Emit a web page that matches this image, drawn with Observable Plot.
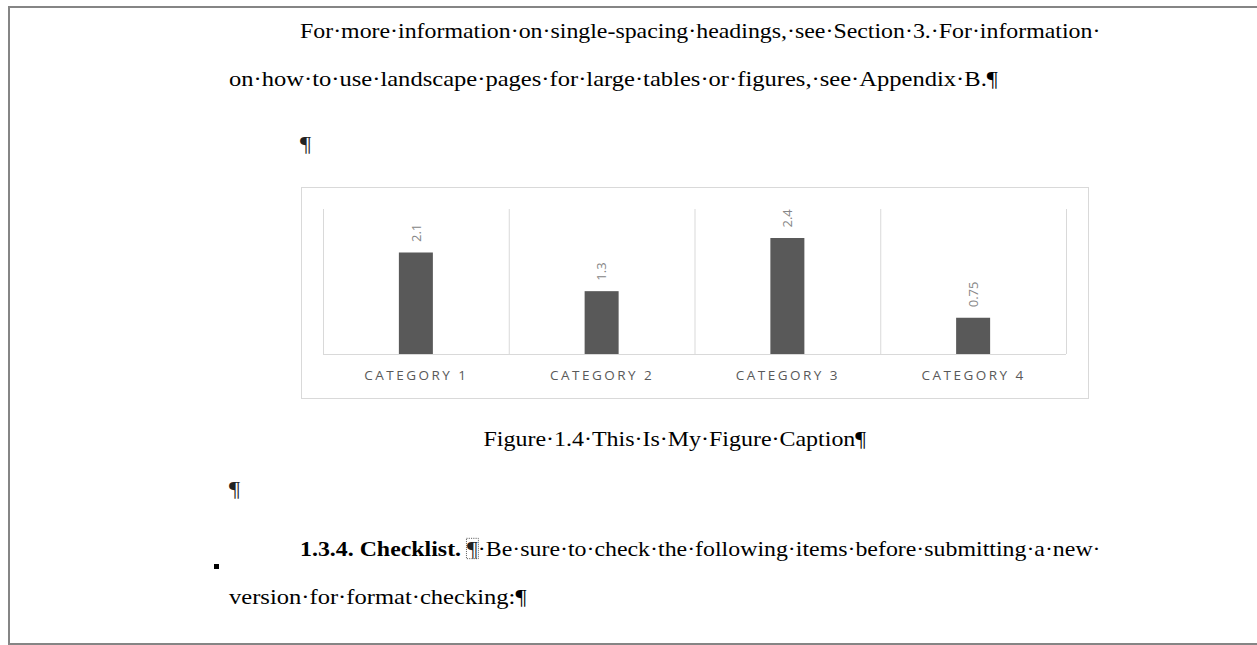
<!DOCTYPE html>
<html>
<head>
<meta charset="utf-8">
<script src="https://cdn.jsdelivr.net/npm/d3@7"></script>
<script src="https://cdn.jsdelivr.net/npm/@observablehq/plot@0.6"></script>
<style>
  html, body { margin: 0; padding: 0; background: #fff; }
  body { width: 1257px; height: 645px; overflow: hidden; position: relative; }
  .page { position: absolute; left: 8px; top: 6px; width: 1260px; height: 635px;
          border-left: 2px solid #858585; border-top: 2px solid #858585; border-bottom: 2px solid #858585; }
  #doc { position: absolute; left: 0; top: 0; }
  #doc text { font-family: "Liberation Serif", "Times New Roman", serif; font-size: 21px; fill: #000; }
  #chartbox { position: absolute; left: 301px; top: 187px; width: 786px; height: 210px; border: 1px solid #d9d9d9; }
  #chartbox svg { display: block; }
  #chartbox g[aria-label^="x-axis"] text { letter-spacing: 2.5px; fill: #595959; }
</style>
</head>
<body>
<div class="page"></div>
<svg id="doc" width="1257" height="645"></svg>
<div id="chartbox"></div>
<script>
// ---- chart data ----
const categories = ["Category 1", "Category 2", "Category 3", "Category 4"];
const values = [2.1, 1.3, 2.4, 0.75];
const valueLabels = ["2.1", "1.3", "2.4", "0.75"];
const yMax = 3;

// ---- document text ----
const para1 = ["For·more·information·on·single-spacing·headings,·see·Section·3.·For·information·",
               "on·how·to·use·landscape·pages·for·large·tables·or·figures,·see·Appendix·B.¶"];
const emptyMark = "¶";
const caption = "Figure·1.4·This·Is·My·Figure·Caption¶";
const headingBold = "1.3.4. Checklist.";
const headingRest = "·Be·sure·to·check·the·following·items·before·submitting·a·new·";
const para2End = "version·for·format·checking:¶";

const data = categories.map((c, i) => ({category: c, index: i, value: values[i], label: valueLabels[i]}));

const chart = Plot.plot({
  width: 786,
  height: 210,
  marginLeft: 21,
  marginRight: 22,
  marginTop: 21,
  marginBottom: 44,
  style: {background: "transparent", fontFamily: "'Open Sans', sans-serif", fontSize: "13.5px", color: "#595959", overflow: "visible"},
  x: {
    domain: [0, categories.length],
    ticks: categories.map((c, i) => i + 0.5),
    tickFormat: t => categories[Math.floor(t)].toUpperCase(),
    tickSize: 0,
    tickPadding: 16,
    label: null
  },
  y: {domain: [0, yMax], axis: null},
  marks: [
    Plot.ruleX(d3.range(categories.length + 1), {y1: 0, y2: yMax, stroke: "#d9d9d9", strokeWidth: 1}),
    Plot.ruleY([0], {stroke: "#d9d9d9", strokeWidth: 1.2}),
    Plot.rect(data, {x1: d => d.index + 0.5, x2: d => d.index + 0.5, y1: 0, y2: "value",
                     insetLeft: -17, insetRight: -17, fill: "#595959"}),
    Plot.text(data, {x: d => d.index + 0.5, y: "value", text: "label", rotate: -90,
                     textAnchor: "start", lineAnchor: "middle", dy: -11, fill: "#868686", fontSize: 13})
  ]
});
document.getElementById("chartbox").appendChild(chart);

// ---- document text layout ----
const svg = d3.select("#doc");
const SX = 1.17;
function line(x, y, parts, opts = {}) {
  const g = svg.append("g");
  const t = g.append("text").attr("x", 0).attr("y", 0);
  parts.forEach(p => {
    const ts = t.append("tspan").text(p.text);
    if (p.bold) ts.attr("font-weight", "bold");
    if (p.fill) ts.attr("fill", p.fill);
  });
  const w = t.node().getComputedTextLength();
  let sx = SX;
  if (opts.width) sx = opts.width / w;
  let left = x;
  if (opts.center) left = x - (w * sx) / 2;
  g.attr("transform", `translate(${left},${y}) scale(${sx},1)`);
  return {g, t, sx, left};
}
line(300, 38, [{text: para1[0]}], {width: 801});
line(229, 86, [{text: para1[1]}]);
line(300, 151, [{text: emptyMark, fill: "#222"}]);
line(675, 446, [{text: caption}], {center: true, width: 383});
line(229, 496, [{text: emptyMark, fill: "#222"}]);
const h = line(300, 556, [{text: headingBold, bold: true}, {text: " "}, {text: "¶", fill: "#222"}, {text: headingRest}], {width: 801});
{
  const idx = headingBold.length + 1;
  const ext = h.t.node().getExtentOfChar(idx);
  h.g.append("rect").attr("x", ext.x - 0.5).attr("y", ext.y + 1).attr("width", ext.width + 1).attr("height", ext.height - 3)
    .attr("fill", "none").attr("stroke", "#444").attr("stroke-width", 0.8).attr("stroke-dasharray", "1,1");
}
line(229, 604, [{text: para2End}]);
svg.append("rect").attr("x", 214).attr("y", 564).attr("width", 5).attr("height", 5).attr("fill", "#000");
</script>
</body>
</html>
